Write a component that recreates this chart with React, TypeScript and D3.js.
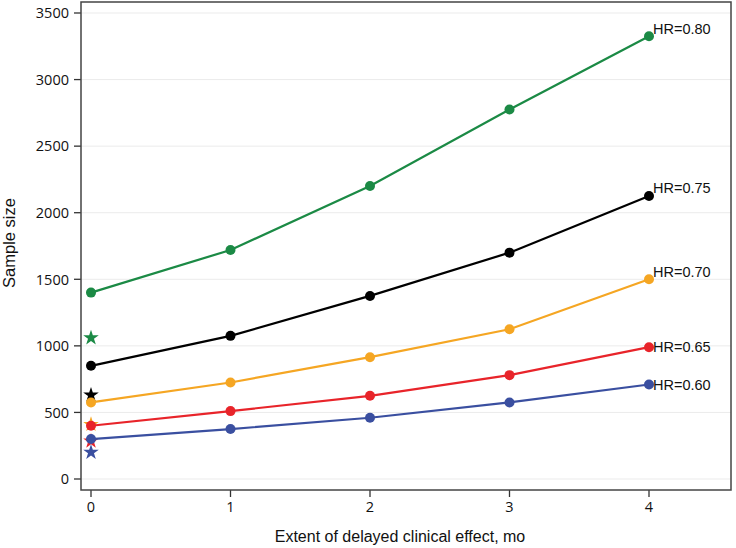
import React from "react";
import * as d3 from "d3";

const xValues = [0, 1, 2, 3, 4];
const seriesNames = ["HR=0.80", "HR=0.75", "HR=0.70", "HR=0.65", "HR=0.60"];
const seriesColors = ["#1b8a45", "#000000", "#f5a623", "#e8242a", "#3a4fa0"];
const hr080 = [1400, 1720, 2200, 2775, 3325];
const hr075 = [850, 1075, 1375, 1700, 2125];
const hr070 = [575, 725, 915, 1125, 1500];
const hr065 = [400, 510, 625, 780, 990];
const hr060 = [300, 375, 460, 575, 710];
const starValues = [1060, 630, 410, 285, 200];
const labelDy = [-8, -8, -8, 0, 0];
const yTicks = [0, 500, 1000, 1500, 2000, 2500, 3000, 3500];
const xTicks = [0, 1, 2, 3, 4];

const allSeries = [hr080, hr075, hr070, hr065, hr060];

export default function App() {
  const W = 736, H = 548;
  const left = 81, right = 731, top = 2, bottom = 490;
  const x = d3.scaleLinear().domain([0, 4]).range([91, 649]);
  const y = d3.scaleLinear().domain([0, 3500]).range([479, 13]);
  const line = d3.line<number>().x((_, i) => x(xValues[i])).y((d) => y(d));
  const star = d3.symbol().type(d3.symbolStar).size(75)();
  const font = "'Open Sans', 'DejaVu Sans', sans-serif";
  const arial = "'Liberation Sans', Arial, sans-serif";

  return (
    <svg width={W} height={H} style={{ position: "absolute", left: 0, top: 0, background: "#fff" }} fontFamily={font}>
      {yTicks.map((t) => (
        <line key={"g" + t} x1={left} x2={right} y1={y(t)} y2={y(t)} stroke="#ebebeb" strokeWidth={1} />
      ))}
      {yTicks.map((t) => (
        <g key={"yt" + t}>
          <line x1={left - 7} x2={left} y1={y(t)} y2={y(t)} stroke="#333" strokeWidth={1.3} />
          <text x={left - 12} y={y(t)} dy="0.36em" textAnchor="end" fontSize={14.5} fill="#111">{t}</text>
        </g>
      ))}
      {xTicks.map((t) => (
        <g key={"xt" + t}>
          <line x1={x(t)} x2={x(t)} y1={bottom} y2={bottom + 7} stroke="#333" strokeWidth={1.3} />
          <text x={x(t)} y={bottom + 22} textAnchor="middle" fontSize={14.5} fill="#111">{t}</text>
        </g>
      ))}
      <text x={400} y={542} textAnchor="middle" fontSize={16} fill="#111" fontFamily={arial}>Extent of delayed clinical effect, mo</text>
      <text transform={`translate(15,${243}) rotate(-90)`} textAnchor="middle" fontSize={16.5} fill="#111" fontFamily={arial}>Sample size</text>

      {allSeries.map((s, k) => (
        <g key={"s" + k}>
          <path d={line(s) || ""} fill="none" stroke={seriesColors[k]} strokeWidth={2.2} />
          {s.map((v, i) => (
            <circle key={i} cx={x(xValues[i])} cy={y(v)} r={5} fill={seriesColors[k]} />
          ))}
          <path d={star} transform={`translate(${x(0)},${y(starValues[k])})`} fill={seriesColors[k]} />
          <text x={x(4) + 4} y={y(s[4]) + labelDy[k]} dy="0.36em" fontSize={14.5} fill="#111" fontFamily={arial}>{seriesNames[k]}</text>
        </g>
      ))}
      <rect x={left} y={top} width={right - left} height={bottom - top} fill="none" stroke="#444" strokeWidth={1.5} />
    </svg>
  );
}
